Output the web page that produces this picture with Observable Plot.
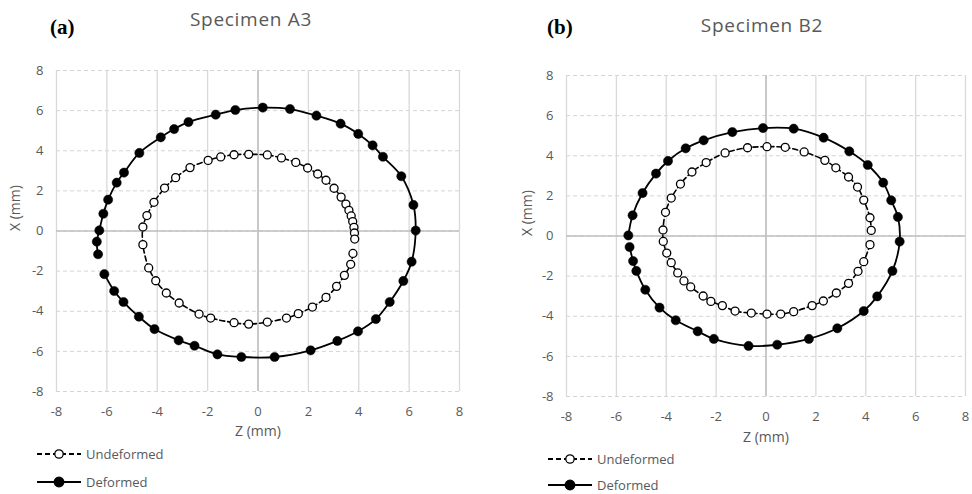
<!DOCTYPE html>
<html>
<head>
<meta charset="utf-8">
<script src="https://cdn.jsdelivr.net/npm/d3@7"></script>
<script src="https://cdn.jsdelivr.net/npm/@observablehq/plot@0.6"></script>
<style>
  html, body { margin: 0; padding: 0; background: #fff; }
  #wrap { position: relative; width: 972px; height: 494px; overflow: hidden; font-family: "Open Sans", sans-serif; }
  .panel { position: absolute; top: 0; }
  .title { position: absolute; color: #595959; font-family: "Open Sans", sans-serif; font-size: 19px; white-space: nowrap; transform: translate(-50%, -50%); letter-spacing: 0.7px; }
  .tag { position: absolute; font-family: "Liberation Serif", serif; font-weight: bold; font-size: 21px; color: #000; white-space: nowrap; transform: translateY(-50%); }
  .leg { position: absolute; display: flex; align-items: center; color: #595959; font-size: 13px; line-height: 16px; white-space: nowrap; transform: translateY(-50%); }
  .leg svg { margin-right: 4px; }
</style>
</head>
<body>
<div id="wrap"></div>
<script>
// ---- data: [Z (mm), X (mm)] points ----
const ticks = [-8, -6, -4, -2, 0, 2, 4, 6, 8];

const panelTitles = ["Specimen A3", "Specimen B2"];
const panelTags = ["(a)", "(b)"];
const seriesNames = ["Undeformed", "Deformed"];

const a3Undeformed = [
  [3.77,-1.12],[3.68,-1.66],[3.43,-2.21],[3.12,-2.76],[2.70,-3.31],[2.16,-3.79],[1.60,-4.12],[1.13,-4.34],
  [0.37,-4.54],[-0.37,-4.64],[-0.95,-4.57],[-1.88,-4.34],[-2.34,-4.14],[-3.13,-3.59],[-3.64,-3.09],
  [-4.06,-2.48],[-4.34,-1.84],[-4.57,-0.68],[-4.57,0.20],[-4.41,0.77],[-4.13,1.43],[-3.71,2.14],
  [-3.27,2.66],[-2.70,3.16],[-1.98,3.52],[-1.48,3.69],[-0.95,3.80],[-0.37,3.82],[0.37,3.79],[0.93,3.64],
  [1.50,3.42],[1.97,3.14],[2.37,2.84],[2.70,2.53],[3.02,2.13],[3.30,1.69],[3.49,1.34],[3.61,1.03],
  [3.70,0.75],[3.76,0.47],[3.81,0.18],[3.83,-0.10],[3.84,-0.40]
];
const a3Deformed = [
  [-6.10,-2.15],[-5.71,-2.99],[-5.34,-3.54],[-4.73,-4.27],[-4.11,-4.89],[-3.15,-5.45],[-2.52,-5.72],
  [-1.61,-6.15],[-0.66,-6.28],[0.66,-6.28],[2.09,-5.95],[3.15,-5.48],[3.97,-5.00],[4.68,-4.39],
  [5.23,-3.54],[5.77,-2.49],[6.10,-1.53],[6.26,0.02],[6.17,1.30],[5.69,2.73],[4.96,3.70],[4.55,4.27],
  [3.98,4.84],[3.28,5.35],[2.32,5.75],[1.27,6.08],[0.19,6.15],[-0.90,6.03],[-1.68,5.80],[-2.76,5.43],
  [-3.33,5.08],[-3.86,4.67],[-4.71,3.89],[-5.32,2.91],[-5.61,2.41],[-5.95,1.56],[-6.14,0.86],
  [-6.30,0.03],[-6.40,-0.53],[-6.35,-1.16]
];
const b2Undeformed = [
  [4.17,-0.43],[3.92,-1.28],[3.69,-1.76],[3.31,-2.36],[2.82,-2.84],[2.30,-3.24],[1.85,-3.47],[1.11,-3.77],
  [0.59,-3.89],[0.04,-3.89],[-0.59,-3.84],[-1.24,-3.74],[-1.75,-3.47],[-2.21,-3.26],[-2.52,-2.99],
  [-3.02,-2.54],[-3.29,-2.24],[-3.54,-1.84],[-3.80,-1.33],[-3.98,-0.85],[-4.12,-0.27],[-4.13,0.30],
  [-4.03,1.18],[-3.80,1.89],[-3.43,2.59],[-2.97,3.19],[-2.40,3.66],[-1.64,4.14],[-0.74,4.40],[0.04,4.45],
  [0.77,4.42],[1.53,4.19],[2.36,3.77],[2.80,3.40],[3.31,2.94],[3.67,2.44],[3.92,1.79],[4.17,0.91],[4.22,0.28]
];
const b2Deformed = [
  [-5.47,-0.55],[-5.33,-1.25],[-5.20,-1.74],[-4.84,-2.68],[-4.27,-3.57],[-3.62,-4.20],[-2.74,-4.75],
  [-2.09,-5.13],[-0.70,-5.48],[0.45,-5.42],[1.72,-5.13],[2.86,-4.60],[3.92,-3.74],[4.46,-3.01],
  [5.07,-1.74],[5.36,-0.28],[5.29,0.95],[5.02,1.78],[4.70,2.66],[4.08,3.54],[3.34,4.22],[2.31,4.90],
  [1.11,5.35],[-0.12,5.38],[-1.35,5.18],[-2.50,4.77],[-3.22,4.37],[-3.93,3.74],[-4.41,3.11],
  [-4.95,2.14],[-5.35,1.03],[-5.52,0.03]
];

const wrap = document.getElementById("wrap");
const gray = "#595959";
const fmt = d => d < 0 ? "-" + Math.abs(d) : String(d);

function makePanel(undef, def, m) {
  return Plot.plot({
    width: 486, height: 494,
    marginLeft: m.left, marginRight: m.right, marginTop: m.top, marginBottom: m.bottom,
    x: {domain: [-8, 8], label: null},
    y: {domain: [-8, 8], label: null},
    style: {fontFamily: "Open Sans, sans-serif", fontSize: "13px", color: gray, background: "transparent", overflow: "visible"},
    marks: [
      Plot.gridY(ticks, {stroke: "#d4d4d4", strokeOpacity: 1, strokeWidth: 1, strokeDasharray: "4,3"}),
      Plot.gridX(ticks, {stroke: "#d9d9d9", strokeOpacity: 1, strokeWidth: 1.3}),
      Plot.ruleX([0], {stroke: "#bfbfbf", strokeWidth: 1.5}),
      Plot.ruleY([0], {stroke: "#bfbfbf", strokeWidth: 1.5}),
      Plot.axisX(ticks, {tickSize: 0, tickPadding: 15, label: null, fill: gray, fontSize: 13, tickFormat: fmt}),
      Plot.axisY(ticks, {tickSize: 0, tickPadding: 13, label: null, fill: gray, fontSize: 13, tickFormat: fmt}),
      Plot.text(["Z (mm)"], {frameAnchor: "bottom", dy: m.zdy, fill: gray, fontSize: 14}),
      Plot.text(["X (mm)"], {frameAnchor: "left", dx: m.xdx, rotate: -90, fill: gray, fontSize: 14}),
      Plot.line(undef, {x: d => d[0], y: d => d[1], curve: "catmull-rom", stroke: "#000", strokeWidth: 1.6, strokeDasharray: "5,3"}),
      Plot.dot(undef, {x: d => d[0], y: d => d[1], r: 4, fill: "#fff", stroke: "#000", strokeWidth: 1.3}),
      Plot.line(def, {x: d => d[0], y: d => d[1], curve: "catmull-rom", stroke: "#000", strokeWidth: 1.8}),
      Plot.dot(def, {x: d => d[0], y: d => d[1], r: 4.6, fill: "#000", stroke: "#000", strokeWidth: 0.5})
    ]
  });
}

function addPanel(left, undef, def, m, cfg) {
  const p = makePanel(undef, def, m);
  p.classList.add("panel");
  p.style.left = left + "px";
  wrap.appendChild(p);

  const t = document.createElement("div");
  t.className = "title"; t.textContent = cfg.title;
  t.style.left = cfg.titleX + "px"; t.style.top = cfg.titleY + "px";
  wrap.appendChild(t);

  const g = document.createElement("div");
  g.className = "tag"; g.textContent = cfg.tag;
  g.style.left = cfg.tagX + "px"; g.style.top = cfg.tagY + "px";
  wrap.appendChild(g);

  cfg.legY.forEach((y, i) => {
    const l = document.createElement("div");
    l.className = "leg";
    l.style.left = cfg.legX + "px"; l.style.top = y + "px";
    const dashed = i === 0;
    l.innerHTML =
      `<svg width="46" height="14"><line x1="1" y1="7" x2="45" y2="7" stroke="#000" stroke-width="${dashed ? 1.8 : 2}" ${dashed ? 'stroke-dasharray="5,3"' : ''}/>` +
      `<circle cx="23" cy="7" r="${dashed ? 4.2 : 4.8}" fill="${dashed ? '#fff' : '#000'}" stroke="#000" stroke-width="1.3"/></svg>` +
      `<span>${seriesNames[i]}</span>`;
    wrap.appendChild(l);
  });
}

addPanel(0, a3Undeformed, a3Deformed,
  {left: 56, right: 27, top: 70, bottom: 103, zdy: 44, xdx: -41},
  {title: panelTitles[0], titleX: 251, titleY: 19, tag: panelTags[0], tagX: 50, tagY: 27, legX: 36, legY: [454, 482]});

addPanel(486, b2Undeformed, b2Deformed,
  {left: 80, right: 7, top: 75, bottom: 98, zdy: 45, xdx: -39},
  {title: panelTitles[1], titleX: 762, titleY: 25, tag: panelTags[1], tagX: 547, tagY: 27, legX: 547, legY: [459, 485]});
</script>
</body>
</html>
